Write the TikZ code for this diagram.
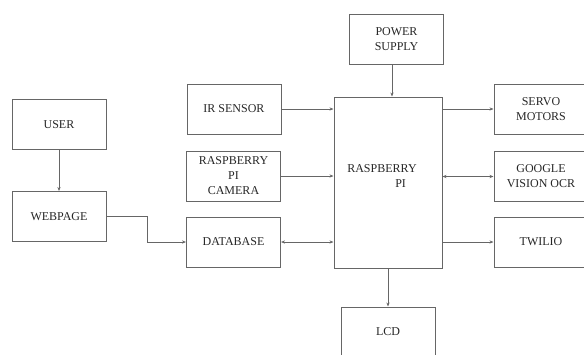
\documentclass[tikz,border=0pt]{standalone}
\usepackage{fontspec}
\setmainfont{Liberation Serif}
\usetikzlibrary{arrows.meta,calc,positioning}

\tikzset{
  blk/.style={draw=black!60,line width=1pt,minimum width=94pt,minimum height=50pt,
    align=center,text=black!85,font=\fontsize{12}{15}\selectfont,inner sep=1pt},
  link/.style={draw=black!60,line width=0.8pt},
  >={Stealth[length=4pt,width=3.2pt]}
}

\begin{document}
\begin{tikzpicture}[x=1pt,y=-1pt]
  \useasboundingbox (0,0) rectangle (584,354);
  \clip (0,0) rectangle (584,354);
  % left column
  \node[blk] (user) at (59,124.5) {USER};
  \node[blk] (web) at (59,216.5) {WEBPAGE};
  % inputs
  \node[blk] (ir) at (234,109) {IR SENSOR};
  \node[blk] (cam) at (233.5,176) {RASPBERRY\\PI\\CAMERA};
  \node[blk] (db) at (233.5,242) {DATABASE};
  % controller
  \node[blk] (ps) at (396.5,39) {POWER\\SUPPLY};
  \node[blk,minimum width=108pt,minimum height=171pt] (rpi) at (388,182.5) {};
  \node[font=\fontsize{12}{15}\selectfont,text=black!85,align=left] (rpitext) at (382,176)
    {RASPBERRY\\\hspace*{4em}PI};
  \node[blk] (lcd) at (388,332) {LCD};
  % outputs
  \node[blk] (servo) at (541,109) {SERVO\\MOTORS};
  \node[blk] (ocr) at (541,176.5) {GOOGLE\\VISION OCR};
  \node[blk] (twilio) at (541,242) {TWILIO};

  \draw[link,->] (user) -- (web);
  \draw[link,->] (web.east) -- ++(41,0) |- (db.west);
  \draw[link,->] (ir.east) -- (ir.east -| rpi.west);
  \draw[link,->] (cam.east) -- (cam.east -| rpi.west);
  \draw[link,<->] (db.east) -- (db.east -| rpi.west);
  \draw[link,->] (ps.south -| 392,0) -- (392,0 |- rpi.north);
  \draw[link,->] (rpi.east |- servo.west) -- (servo.west);
  \draw[link,<->] (rpi.east |- ocr.west) -- (ocr.west);
  \draw[link,->] (rpi.east |- twilio.west) -- (twilio.west);
  \draw[link,->] (rpi.south) -- (lcd.north);
\end{tikzpicture}
\end{document}
